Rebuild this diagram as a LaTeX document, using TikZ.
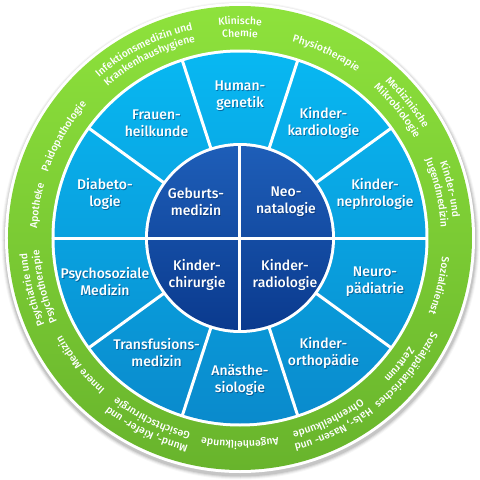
\documentclass[tikz,border=0pt]{standalone}
\usepackage{fontspec}
\IfFontExistsTF{Fira Sans Medium}{\setmainfont{Fira Sans Medium}}{\setmainfont{Fira Sans}}
\usetikzlibrary{decorations.text}
\definecolor{greenTop}{RGB}{142,226,60}
\definecolor{greenBot}{RGB}{104,180,44}
\definecolor{blueTop}{RGB}{8,184,242}
\definecolor{blueBot}{RGB}{10,138,204}
\definecolor{darkTop}{RGB}{30,94,184}
\definecolor{darkBot}{RGB}{10,58,142}
\definecolor{textShadow}{RGB}{5,40,90}
\newcommand\ringfont{\fontsize{10.4}{11}\selectfont}
\newcommand\ringtext[3]{%
  \path[decorate, decoration={text along path, text={|\ringfont|#3}, text align=center, text color=white}]
    (#1+70:#2) arc[start angle=#1+70, end angle=#1-70, radius=#2];
}
\newcommand\ringone[2]{\ringtext{#1}{203}{#2}}
\newcommand\ringtwo[3]{\ringtext{#1}{213.5}{#2}\ringtext{#1}{201}{#3}}
\begin{document}
\begin{tikzpicture}[x=1pt,y=1pt,
  seglabel/.style={text=white, align=center, font=\fontsize{14}{17}\selectfont, inner sep=0pt},
  segshadow/.style={seglabel, text=textShadow, opacity=0.5, xshift=0.8pt, yshift=-0.9pt},
  sepline/.style={white, line width=3pt}]
\useasboundingbox (-240,-242) rectangle (240,238);
% soft shadow
\foreach \r/\o in {239/0.03,238/0.05,237/0.07,236/0.09}
  \fill[black, opacity=\o] (0.5,-2.5) circle[radius=\r];
\fill[white] (0,0) circle[radius=235];
\shade[top color=greenTop, bottom color=greenBot] (0,0) circle[radius=232];
\fill[white] (0,0) circle[radius=188.5];
\shade[top color=blueTop, bottom color=blueBot] (0,0) circle[radius=185.5];
\foreach \a in {0,36,...,324} \draw[sepline] (\a:90) -- (\a:187);
\fill[white] (0,0) circle[radius=95];
\shade[top color=darkTop, bottom color=darkBot] (0,0) circle[radius=92];
\draw[sepline] (-93,0) -- (93,0) (0,-93) -- (0,93);
% middle ring labels
\foreach \a/\t [count=\i] in {
  90/{Human-\\genetik},
  54/{Kinder-\\kardiologie},
  18/{Kinder-\\nephrologie},
  -18/{Neuro-\\pädiatrie},
  -54/{Kinder-\\orthopädie},
  -90/{Anästhe-\\siologie},
  -126/{Transfusions-\\medizin},
  -162/{Psychosoziale\\Medizin},
  162/{Diabeto-\\logie},
  126/{Frauen-\\heilkunde}} {
  \node[segshadow] (segs\i) at (\a:142) {\t};
  \node[seglabel] (seg\i) at (\a:142) {\t};
}
% inner labels
\foreach \p/\t [count=\i] in {
  {(-44,36.5)}/{Geburts-\\medizin},
  {(46,36.5)}/{Neo-\\natalogie},
  {(-43,-36.5)}/{Kinder-\\chirurgie},
  {(45,-36.5)}/{Kinder-\\radiologie}} {
  \node[segshadow] (ins\i) at \p {\t};
  \node[seglabel] (in\i) at \p {\t};
}
% outer ring labels
\ringtwo{90}{Klinische}{Chemie}
\ringone{65}{Physiotherapie}
\ringtwo{39}{Medizinische}{Mikrobiologie}
\ringtwo{13}{Kinder- und}{Jugendmedizin}
\ringone{-13.5}{Sozialdienst}
\ringtwo{-38.5}{Sozialpädiatrisches}{Zentrum}
\ringtwo{-64}{Hals-, Nasen- und}{Ohrenheilkunde}
\ringone{-90}{Augenheilkunde}
\ringtwo{-116}{Mund-, Kiefer- und}{Gesichtschirurgie}
\ringone{-141.5}{Innere Medizin}
\ringtwo{-166}{Psychiatrie und}{Psychotherapie}
\ringone{171}{Apotheke}
\ringone{150}{Paidopathologie}
\ringtwo{117}{Infektionsmedizin und}{Krankenhaushygiene}
\end{tikzpicture}
\end{document}
